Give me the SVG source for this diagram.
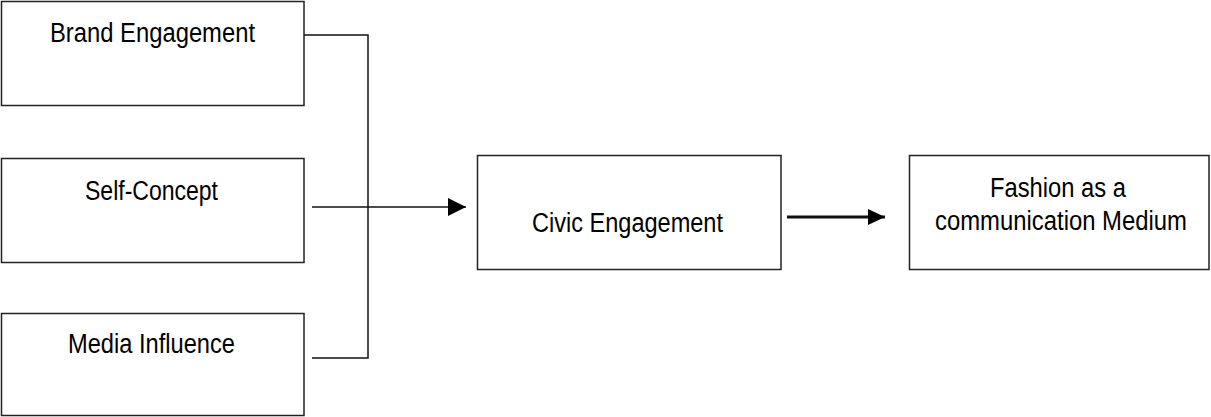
<svg xmlns="http://www.w3.org/2000/svg" width="1211" height="417" viewBox="0 0 1211 417">
<style>
.box{fill:#fff;stroke:#222;stroke-width:1.5}
.lbl{font-family:"Liberation Sans",Arial,sans-serif;font-size:27px;fill:#000;text-anchor:middle}
.ln{fill:none;stroke:#111;stroke-width:1.5}
.thick{stroke-width:3}
</style>
<defs>
<marker id="ah" markerUnits="userSpaceOnUse" markerWidth="18" markerHeight="18" refX="18" refY="9" orient="auto">
<path d="M0,0 L18,9 L0,18 Z" fill="#000"/>
</marker>
<marker id="ah2" markerUnits="userSpaceOnUse" markerWidth="18" markerHeight="16" refX="17" refY="8" orient="auto">
<path d="M0,0 L17,8 L0,16 Z" fill="#000"/>
</marker>
</defs>
<rect width="1211" height="417" fill="#fff"/>
<g id="brand">
<rect class="box" x="1.5" y="1.5" width="302.5" height="104"/>
<text class="lbl" x="152.5" y="42" textLength="205" lengthAdjust="spacingAndGlyphs">Brand Engagement</text>
</g>
<g id="self">
<rect class="box" x="1.5" y="158.5" width="302.5" height="104"/>
<text class="lbl" x="151.5" y="200" textLength="133" lengthAdjust="spacingAndGlyphs">Self-Concept</text>
</g>
<g id="media">
<rect class="box" x="1.5" y="313.5" width="302.5" height="102"/>
<text class="lbl" x="151.5" y="353" textLength="167" lengthAdjust="spacingAndGlyphs">Media Influence</text>
</g>
<g id="civic">
<rect class="box" x="477.5" y="155.5" width="303.5" height="114"/>
<text class="lbl" x="627.5" y="232" textLength="191" lengthAdjust="spacingAndGlyphs">Civic Engagement</text>
</g>
<g id="fashion">
<rect class="box" x="909.5" y="155.5" width="299.5" height="114"/>
<text class="lbl" x="1058" y="197" textLength="136" lengthAdjust="spacingAndGlyphs">Fashion as a</text>
<text class="lbl" x="1061" y="230" textLength="252" lengthAdjust="spacingAndGlyphs">communication Medium</text>
</g>
<g id="connectors">
<path class="ln" d="M304,35 H368 V358 H312"/>
<line class="ln" x1="312" y1="207" x2="466" y2="207" marker-end="url(#ah)"/>
<line class="ln thick" x1="787" y1="217" x2="885" y2="217" marker-end="url(#ah2)"/>
</g>
</svg>
